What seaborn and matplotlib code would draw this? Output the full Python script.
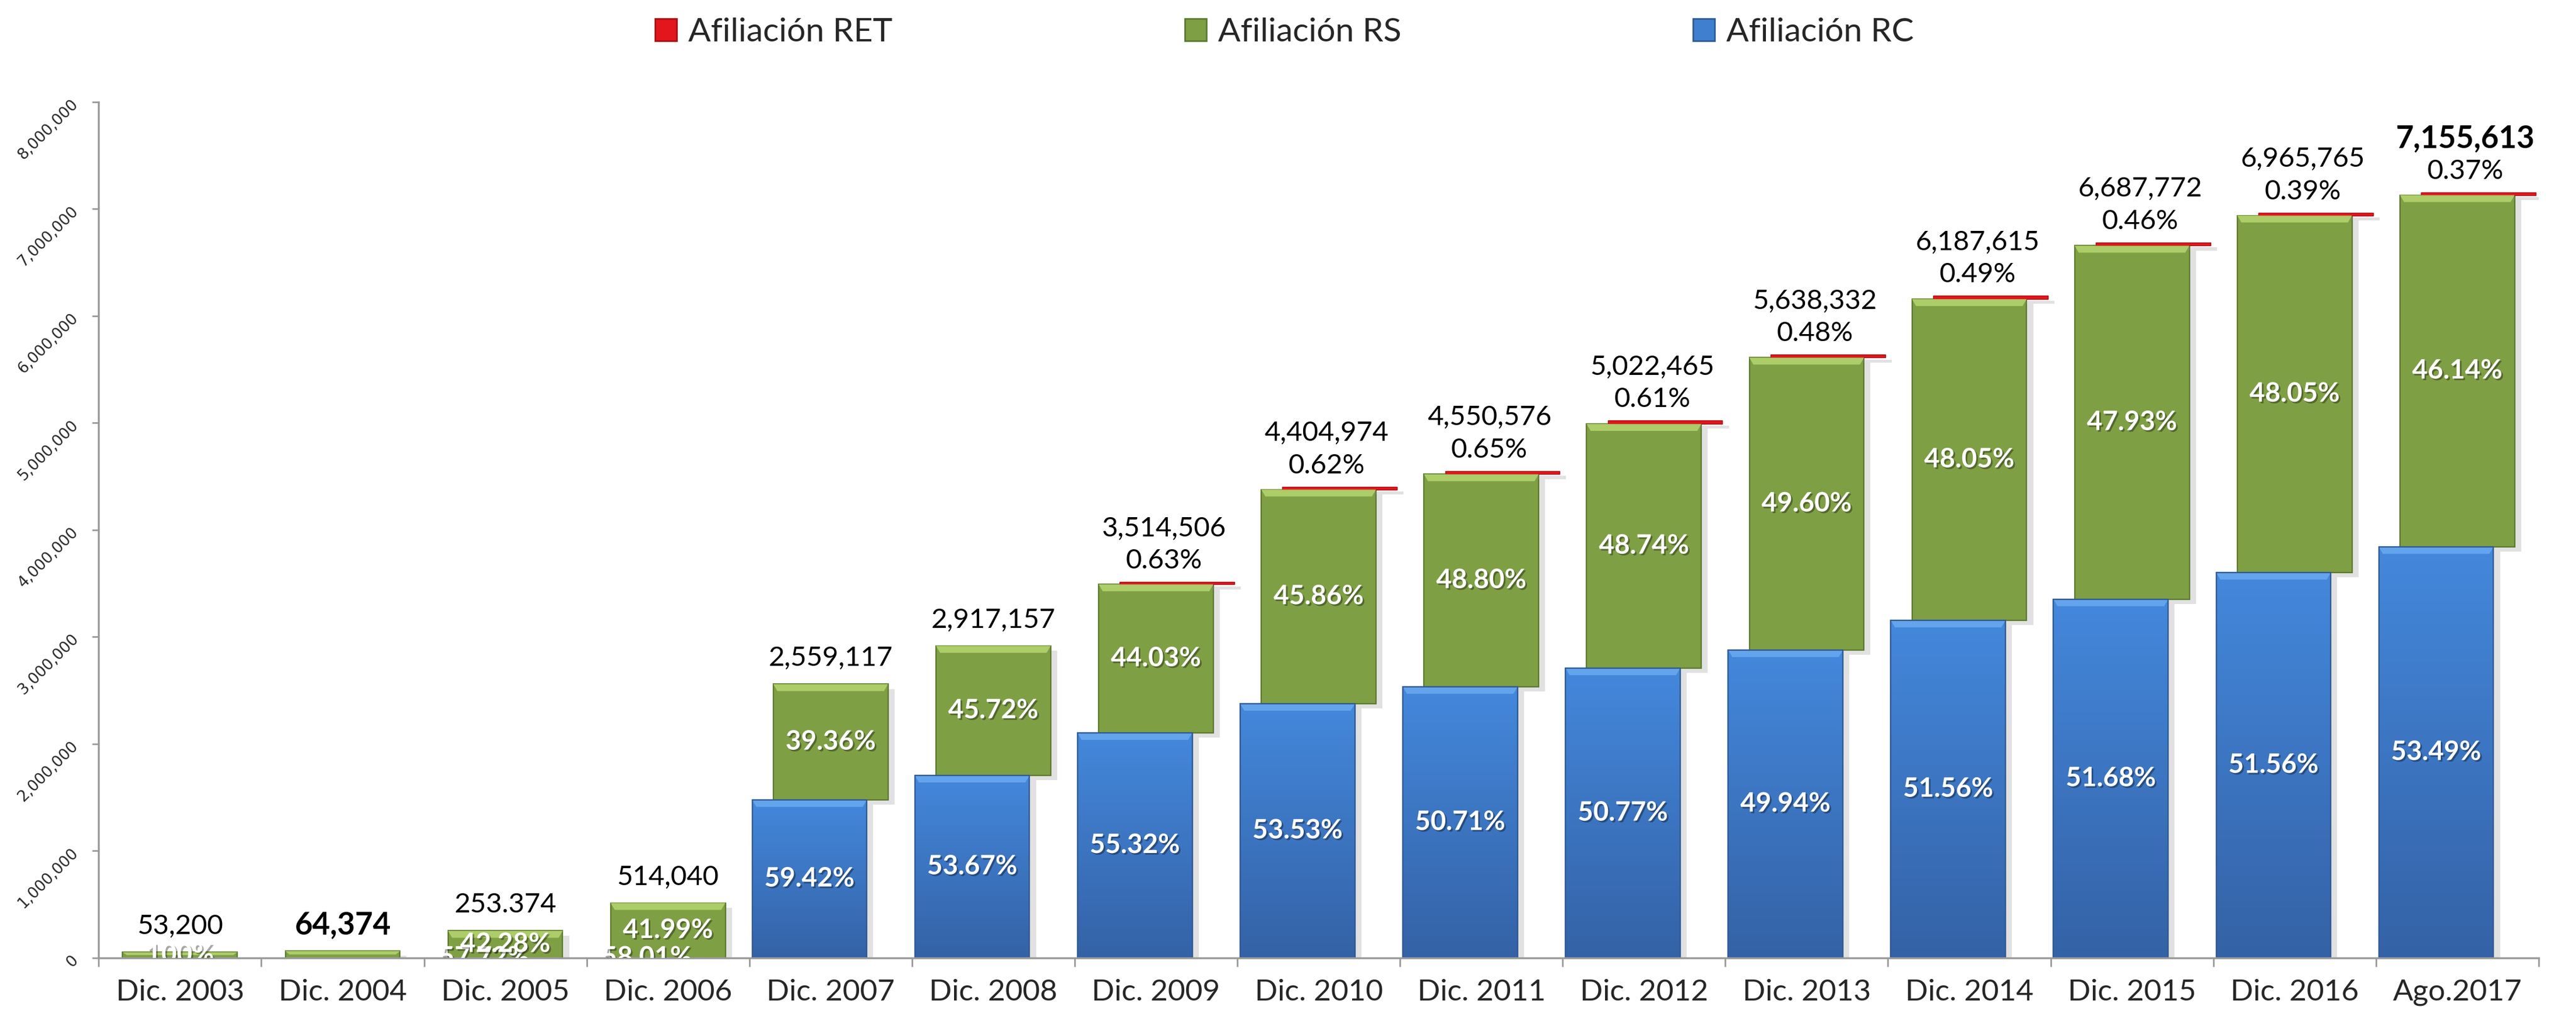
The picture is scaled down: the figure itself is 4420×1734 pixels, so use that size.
import numpy as np
import pandas as pd
import matplotlib
matplotlib.use('Agg')
import matplotlib.pyplot as plt
import matplotlib.patheffects as pe
from matplotlib.patches import Rectangle, Patch, Polygon
from matplotlib.colors import LinearSegmentedColormap
from matplotlib.ticker import FuncFormatter
import seaborn as sns

# values
periods = ["Dic. 2003", "Dic. 2004", "Dic. 2005", "Dic. 2006", "Dic. 2007",
           "Dic. 2008", "Dic. 2009", "Dic. 2010", "Dic. 2011", "Dic. 2012",
           "Dic. 2013", "Dic. 2014", "Dic. 2015", "Dic. 2016", "Ago.2017"]
rc_values = [0, 0, 0, 0, 1477000, 1705000, 2103000, 2376000, 2534000,
             2708000, 2877000, 3155000, 3352000, 3602000, 3842000]
rs_values = [53200, 64374, 253374, 514040, 1082000, 1212000, 1389000,
             2002000, 1987000, 2283000, 2734000, 3003000, 3305000, 3337000, 3288000]
ret_values = [0, 0, 0, 0, 0, 0, 22000, 27000, 30000, 31000, 27000, 30000,
              31000, 27000, 26000]

total_text = ["53,200", "64,374", "253.374", "514,040", "2,559,117", "2,917,157",
              "3,514,506", "4,404,974", "4,550,576", "5,022,465", "5,638,332",
              "6,187,615", "6,687,772", "6,965,765", "7,155,613"]
rc_text = ["", "", "57.72%", "58.01%", "59.42%", "53.67%", "55.32%", "53.53%",
           "50.71%", "50.77%", "49.94%", "51.56%", "51.68%", "51.56%", "53.49%"]
rs_text = ["100%", "", "42.28%", "41.99%", "39.36%", "45.72%", "44.03%", "45.86%",
           "48.80%", "48.74%", "49.60%", "48.05%", "47.93%", "48.05%", "46.14%"]
ret_text = ["", "", "", "", "", "", "0.63%", "0.62%", "0.65%", "0.61%", "0.48%",
            "0.49%", "0.46%", "0.39%", "0.37%"]
bold_totals = ["64,374", "7,155,613"]

BLUE_TOP, BLUE_BOT, BLUE_EDGE, BLUE_BEVEL = '#4488dc', '#3462a6', '#2f5a95', '#6aaaf0'
GREEN, GREEN_EDGE, GREEN_BEVEL = '#7f9f45', '#5b7a2e', '#b6d66f'
RED, RED_EDGE = '#e3161c', '#a80f14'
GRAY = '#9a9a9a'

sns.set_style('white')
plt.rcParams['font.family'] = ['Lato', 'DejaVu Sans']

n = len(periods)
df = pd.DataFrame({'pos': np.arange(n), 'rc': rc_values, 'rs': rs_values, 'ret': ret_values})
df['x_rc'] = df.pos - 0.13
df['x_rs'] = df.pos * 1.0
df['x_ret'] = df.pos + 0.13
df['ret_base'] = df.rc + df.rs
df['top'] = df.ret_base + df.ret

fig = plt.figure(figsize=(22.1, 8.67), dpi=200)
ax = fig.add_axes([0.0383, 0.0525, 0.9472, 0.8466])

shadow = [pe.SimplePatchShadow(offset=(4, -3), shadow_rgbFace='#8a8a8a', alpha=0.25), pe.Normal()]
bar_kw = dict(native_scale=True, width=0.705, saturation=1, errorbar=None, ax=ax,
              path_effects=shadow, zorder=2)

rc_df = df[df.rc > 0]
ret_df = df[df.ret > 0]
sns.barplot(data=rc_df, x='x_rc', y='rc', color=BLUE_TOP, edgecolor=BLUE_EDGE,
            linewidth=0.8, **bar_kw)
sns.barplot(data=df, x='x_rs', y='rs', bottom=df['rc'].values, color=GREEN,
            edgecolor=GREEN_EDGE, linewidth=0.8, **bar_kw)
sns.barplot(data=ret_df, x='x_ret', y='ret', bottom=ret_df['ret_base'].values,
            color=RED, edgecolor=RED_EDGE, linewidth=0.5, **bar_kw)

# gradient + bevel on the blue bars, bevel on the green ones
blue_cmap = LinearSegmentedColormap.from_list('rc', [BLUE_BOT, BLUE_TOP])
grad = np.linspace(0, 1, 256).reshape(-1, 1)
bevel = 65000
for cont, bev_color in ((ax.containers[0], BLUE_BEVEL), (ax.containers[1], GREEN_BEVEL)):
    for bar in cont:
        x0, y0 = bar.get_x(), bar.get_y()
        w, h = bar.get_width(), bar.get_height()
        if h <= 0:
            continue
        if cont is ax.containers[0]:
            im = ax.imshow(grad, extent=[x0, x0 + w, y0, y0 + h], origin='lower',
                           aspect='auto', cmap=blue_cmap, zorder=2.1, interpolation='bicubic')
            im.set_clip_path(bar)
            ax.add_patch(Rectangle((x0, y0), w, h, fill=False, ec=BLUE_EDGE, lw=0.8, zorder=2.3))
        b = min(bevel, h * 0.5)
        top = y0 + h
        ax.add_patch(Polygon([(x0, top), (x0 + w, top), (x0 + w - 0.025, top - b),
                              (x0 + 0.025, top - b)], closed=True, fc=bev_color,
                             ec='none', alpha=0.85, zorder=2.2))

# labels inside the bars
txt_fx = [pe.SimplePatchShadow(offset=(1, -1), shadow_rgbFace='black', alpha=0.35), pe.Normal()]
for i in range(n):
    if rc_text[i]:
        ax.text(df.x_rc[i], rc_values[i] / 2, rc_text[i], ha='center', va='center',
                color='white', fontsize=16.5, fontweight='bold', clip_on=True,
                zorder=6, path_effects=txt_fx)
    if rs_text[i]:
        ax.text(df.x_rs[i], rc_values[i] + rs_values[i] / 2, rs_text[i], ha='center',
                va='center', color='white', fontsize=16.5, fontweight='bold',
                clip_on=True, zorder=6, path_effects=txt_fx)

# totals and RET share above the stacks
for i in range(n):
    top = df.top[i]
    has_ret = ret_values[i] > 0
    dx = 0.05 if has_ret else 0
    bold = total_text[i] in bold_totals
    ax.annotate(total_text[i], (i + dx, top), xytext=(0, 33 if has_ret else 16),
                textcoords='offset points', ha='center', va='center',
                fontsize=19 if bold else 17, fontweight='bold' if bold else 'normal',
                color='black', zorder=7)
    if has_ret:
        ax.annotate(ret_text[i], (i + dx, top), xytext=(0, 13), textcoords='offset points',
                    ha='center', va='center', fontsize=17, color='black', zorder=7)

ax.set_xlim(-0.5, n - 0.5)
ax.set_ylim(0, 8e6)
ax.set_xticks(np.arange(n), periods)
ax.set_xticks(np.arange(n + 1) - 0.5, minor=True)
ax.tick_params(axis='x', which='major', length=0, pad=13, labelsize=18.5)
ax.tick_params(axis='x', which='minor', bottom=True, length=5.5, width=1, color=GRAY,
               direction='out')
ax.set_yticks(np.arange(0, 8e6 + 1, 1e6))
ax.yaxis.set_major_formatter(FuncFormatter(lambda v, p: f'{v:,.0f}'))
ax.tick_params(axis='y', left=True, length=4, width=1, color=GRAY, pad=10, labelsize=9.5)
for lbl in ax.get_yticklabels():
    lbl.set_rotation(45)
    lbl.set_rotation_mode('anchor')
    lbl.set_ha('right')
    lbl.set_va('center')
    lbl.set_fontfamily('DejaVu Sans')
ax.set_xlabel('')
ax.set_ylabel('')
sns.despine(ax=ax)
for s in ('left', 'bottom'):
    ax.spines[s].set_color(GRAY)
    ax.spines[s].set_linewidth(1.2)
    ax.spines[s].set_zorder(3)

handles = [Patch(facecolor=RED, edgecolor=RED_EDGE),
           Patch(facecolor=GREEN, edgecolor=GREEN_EDGE),
           Patch(facecolor='#3f7fd0', edgecolor=BLUE_EDGE)]
fig.legend(handles, ['Afiliación RET', 'Afiliación RS', 'Afiliación RC'], loc='center',
           bbox_to_anchor=(0.4987, 0.968), ncol=3, frameon=False, fontsize=20.5,
           handlelength=0.65, handleheight=0.65, handletextpad=0.35, columnspacing=8.8)

fig.savefig('out.png', dpi=200)
